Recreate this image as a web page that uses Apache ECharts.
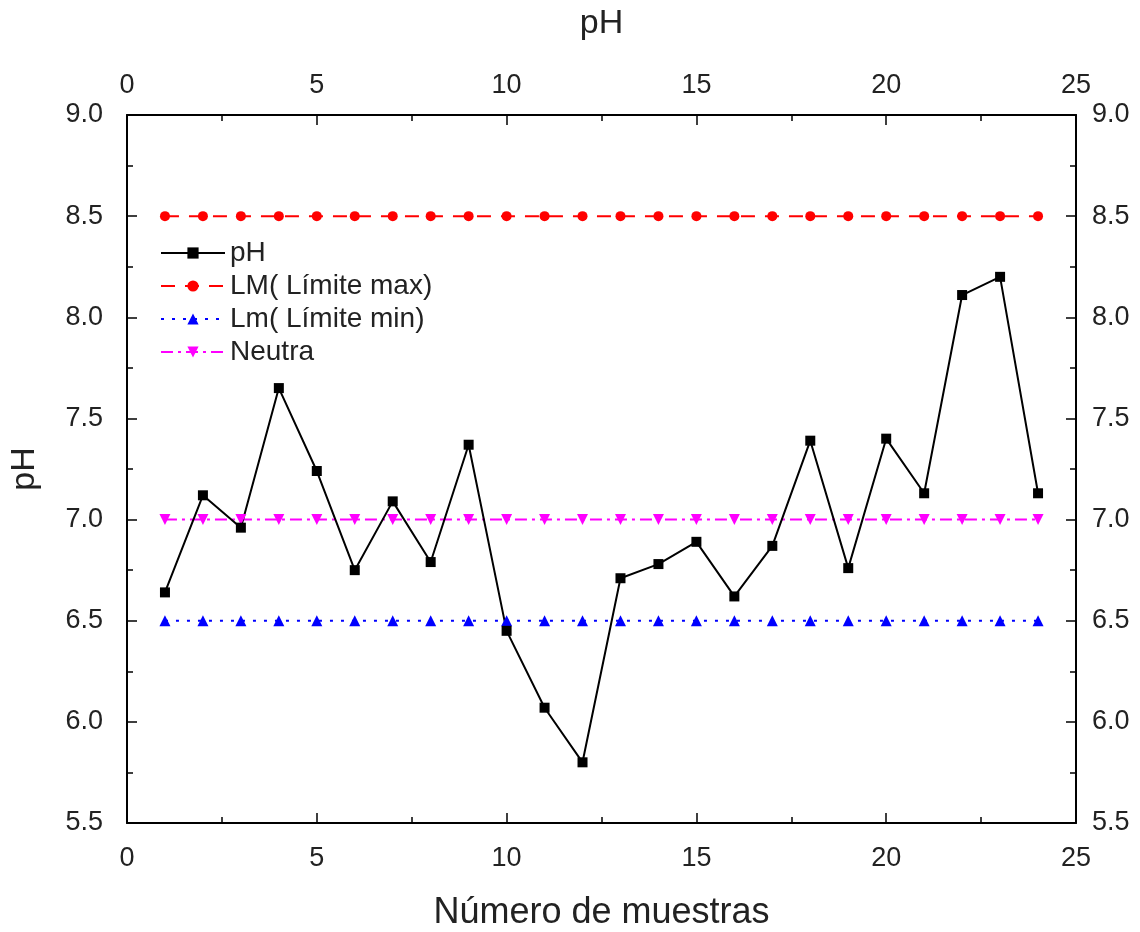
<!DOCTYPE html>
<html>
<head>
<meta charset="utf-8">
<script src="https://cdn.jsdelivr.net/npm/echarts@6/dist/echarts.min.js"></script>
<style>
  html, body { margin: 0; padding: 0; background: #fff; }
  #chart { width: 1140px; height: 932px; }
</style>
</head>
<body>
<div id="chart"></div>
<script>
// muestras 1..24
const muestras = [1, 2, 3, 4, 5, 6, 7, 8, 9, 10, 11, 12, 13, 14, 15, 16, 17, 18, 19, 20, 21, 22, 23, 24]
const phValores = [6.64, 7.12, 6.96, 7.65, 7.24, 6.75, 7.09, 6.79, 7.37, 6.45, 6.07, 5.80,
                   6.71, 6.78, 6.89, 6.62, 6.87, 7.39, 6.76, 7.40, 7.13, 8.11, 8.20, 7.13]
const limiteMax = [8.5, 8.5, 8.5, 8.5, 8.5, 8.5, 8.5, 8.5, 8.5, 8.5, 8.5, 8.5,
                   8.5, 8.5, 8.5, 8.5, 8.5, 8.5, 8.5, 8.5, 8.5, 8.5, 8.5, 8.5]
const limiteMin = [6.5, 6.5, 6.5, 6.5, 6.5, 6.5, 6.5, 6.5, 6.5, 6.5, 6.5, 6.5,
                   6.5, 6.5, 6.5, 6.5, 6.5, 6.5, 6.5, 6.5, 6.5, 6.5, 6.5, 6.5]
const neutra = [7.0, 7.0, 7.0, 7.0, 7.0, 7.0, 7.0, 7.0, 7.0, 7.0, 7.0, 7.0,
                7.0, 7.0, 7.0, 7.0, 7.0, 7.0, 7.0, 7.0, 7.0, 7.0, 7.0, 7.0]

const pares = vals => muestras.map((m, i) => [m, vals[i]])

const font = 'Liberation Sans, Arial, sans-serif'
const axisLine = { show: true, onZero: false, lineStyle: { color: '#000', width: 2 } }
const axisTick = { show: true, inside: true, length: 10, lineStyle: { color: '#000', width: 1.5 } }
const minorTick = { show: true, splitNumber: 2, length: 6, lineStyle: { color: '#000', width: 1.5 } }
const label = { color: '#222', fontSize: 27, fontFamily: font }

const xBase = {
    type: 'value', min: 0, max: 25, interval: 5,
    axisLine, axisTick, minorTick,
    splitLine: { show: false },
    nameLocation: 'middle'
}
const yBase = {
    type: 'value', min: 5.5, max: 9.0, interval: 0.5,
    axisLine, axisTick, minorTick,
    splitLine: { show: false },
    nameLocation: 'middle'
}

const chart = echarts.init(document.getElementById('chart'))
chart.setOption({
    animation: false,
    backgroundColor: '#fff',
    grid: { left: 127, right: 64, top: 115, bottom: 109, outerBoundsMode: 'none' },
    xAxis: [
        { ...xBase, position: 'bottom', name: 'Número de muestras', nameGap: 72,
          nameTextStyle: { color: '#222', fontSize: 36, fontFamily: font },
          axisLabel: { ...label, margin: 22 } },
        { ...xBase, position: 'top', name: 'pH', nameGap: 74,
          nameTextStyle: { color: '#222', fontSize: 34, fontFamily: font },
          axisLabel: { ...label, margin: 16 } }
    ],
    yAxis: [
        { ...yBase, position: 'left', name: 'pH', nameGap: 85,
          nameTextStyle: { color: '#222', fontSize: 34, fontFamily: font },
          axisLabel: { ...label, margin: 24, formatter: v => v.toFixed(1) } },
        { ...yBase, position: 'right',
          axisLabel: { ...label, margin: 16, formatter: v => v.toFixed(1) } }
    ],
    legend: {
        left: 155, top: 234, orient: 'vertical',
        itemWidth: 64, itemHeight: 14, itemGap: 5,
        textStyle: { color: '#222', fontSize: 28, fontFamily: font },
        data: ['pH', 'LM( Límite max)', 'Lm( Límite min)', 'Neutra']
    },
    series: [
        {
            name: 'LM( Límite max)', type: 'line', data: pares(limiteMax),
            symbol: 'circle', symbolSize: 10,
            itemStyle: { color: '#ff0000' },
            lineStyle: { color: '#ff0000', width: 2, type: [14, 10] }
        },
        {
            name: 'Lm( Límite min)', type: 'line', data: pares(limiteMin),
            symbol: 'triangle', symbolSize: 11,
            itemStyle: { color: '#0000ff' },
            lineStyle: { color: '#0000ff', width: 2, type: [3, 8] }
        },
        {
            name: 'Neutra', type: 'line', data: pares(neutra),
            symbol: 'triangle', symbolRotate: 180, symbolSize: 11,
            itemStyle: { color: '#ff00ff' },
            lineStyle: { color: '#ff00ff', width: 2, type: [12, 5, 3, 5] }
        },
        {
            name: 'pH', type: 'line', data: pares(phValores),
            symbol: 'rect', symbolSize: 10,
            itemStyle: { color: '#000' },
            lineStyle: { color: '#000', width: 2 }
        }
    ]
})
</script>
</body>
</html>
